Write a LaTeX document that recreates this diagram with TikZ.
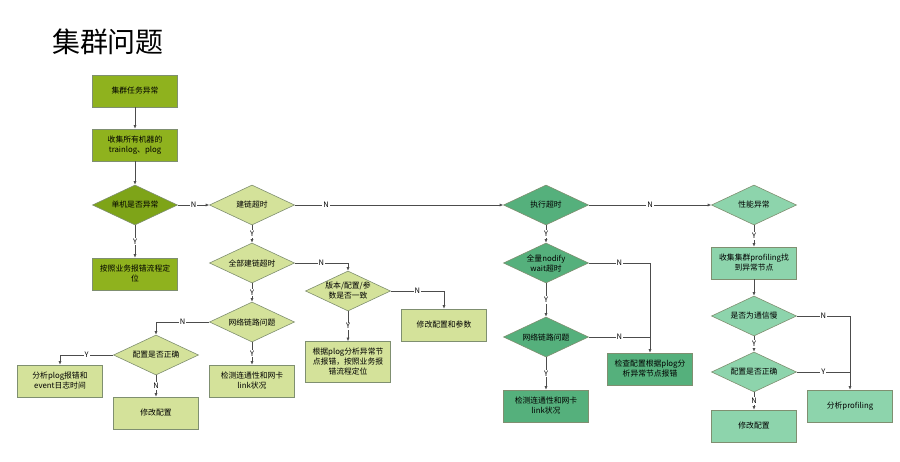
\documentclass[tikz,border=0pt]{standalone}
\usepackage{fontspec}
\setmainfont{Noto Sans CJK SC}
\usetikzlibrary{shapes.geometric,arrows.meta}
\definecolor{ca}{HTML}{8FB21E}
\definecolor{cad}{HTML}{7EA418}
\definecolor{cb}{HTML}{D4E29A}
\definecolor{cc}{HTML}{55B07C}
\definecolor{cd}{HTML}{8DD4AC}
\definecolor{bd}{HTML}{7F8F70}
\begin{document}
\begin{tikzpicture}[x=1pt,y=-1pt,
  every node/.style={font=\fontsize{7.8}{10}\selectfont},
  box/.style={rectangle,draw=bd,line width=0.6pt,minimum width=85pt,minimum height=32pt,align=center,inner sep=1pt},
  dia/.style={diamond,draw=bd,line width=0.6pt,minimum width=85pt,minimum height=40pt,aspect=2.1,inner sep=0pt,align=center},
  ar/.style={-{Latex[length=3.5pt,width=3pt]},draw=black!70,line width=0.6pt},
  ln/.style={draw=black!70,line width=0.6pt},
  lb/.style={fill=white,inner sep=1pt,font=\fontsize{7.5}{9}\selectfont}]
\useasboundingbox (0,0) rectangle (900,462);
\node[font=\fontsize{28}{32}\selectfont] (title) at (108,42) {集群问题};
% column 1
\node[box,fill=ca] (a1) at (135,91) {集群任务异常};
\node[box,fill=ca] (a2) at (135,145) {收集所有机器的\\trainlog、plog};
\node[dia,fill=cad] (a3) at (135,205) {单机是否异常};
\node[box,fill=ca] (a4) at (135,274) {按照业务报错流程定\\位};
% column 2
\node[dia,fill=cb] (b1) at (252,205) {建链超时};
\node[dia,fill=cb] (b2) at (252,263) {全部建链超时};
\node[dia,fill=cb] (b3) at (252,322) {网络链路问题};
\node[dia,fill=cb] (b4) at (156,355) {配置是否正确};
\node[box,fill=cb] (b5) at (60,381) {分析plog报错和\\event日志时间};
\node[box,fill=cb] (b6) at (156,413) {修改配置};
\node[box,fill=cb] (b7) at (252,381) {检测连通性和网卡\\link状况};
\node[dia,fill=cb] (b8) at (348,291) {版本/配置/参\\数是否一致};
\node[box,fill=cb] (b9) at (444,325) {修改配置和参数};
\node[box,fill=cb,minimum height=41pt] (b10) at (348,362) {根据plog分析异常节\\点报错，按照业务报\\错流程定位};
% column 3
\node[dia,fill=cc] (c1) at (546,205) {执行超时};
\node[dia,fill=cc] (c2) at (546,263) {全量nodify\\wait超时};
\node[dia,fill=cc] (c3) at (546,337) {网络链路问题};
\node[box,fill=cc] (c4) at (546,406) {检测连通性和网卡\\link状况};
\node[box,fill=cc] (c5) at (650,369) {检查配置根据plog分\\析异常节点报错};
% column 4
\node[dia,fill=cd] (d1) at (754,205) {性能异常};
\node[box,fill=cd] (d2) at (754,263) {收集集群profiling找\\到异常节点};
\node[dia,fill=cd] (d3) at (754,316) {是否为通信慢};
\node[dia,fill=cd] (d4) at (754,372) {配置是否正确};
\node[box,fill=cd] (d5) at (754,426) {修改配置};
\node[box,fill=cd] (d6) at (850,406) {分析profiling};
% connectors
\draw[ar] (a1) -- (a2);
\draw[ar] (a2) -- (a3);
\draw[ar] (a3) -- node[lb]{Y} (a4);
\draw[ar] (a3) -- node[lb]{N} (b1);
\draw[ar] (b1) -- node[lb,pos=0.15]{N} (c1);
\draw[ar] (c1) -- node[lb]{N} (d1);
\draw[ar] (b1) -- node[lb]{Y} (b2);
\draw[ar] (b2) -- node[lb]{Y} (b3);
\draw[ar] (b2.east) -- node[lb]{N} (348,263) -- (b8.north);
\draw[ar] (b8.east) -- node[lb]{N} (444,291) -- (b9.north);
\draw[ar] (b8) -- node[lb]{Y} (b10);
\draw[ar] (b3.west) -- node[lb]{N} (156,322) -- (b4.north);
\draw[ar] (b4.west) -- node[lb]{Y} (60,355) -- (b5.north);
\draw[ar] (b4) -- node[lb]{N} (b6);
\draw[ar] (b3) -- node[lb]{Y} (b7);
\draw[ar] (c1) -- node[lb]{Y} (c2);
\draw[ar] (c2) -- node[lb]{Y} (c3);
\draw[ar] (c2.east) -- node[lb]{N} (650,263) -- (c5.north);
\draw[ln] (c3.east) -- node[lb]{N} (650,337);
\draw[ar] (c3) -- node[lb]{Y} (c4);
\draw[ar] (d1) -- node[lb]{Y} (d2);
\draw[ar] (d2) -- (d3);
\draw[ar] (d3) -- node[lb]{Y} (d4);
\draw[ar] (d3.east) -- node[lb]{N} (850,316) -- (d6.north);
\draw[ln] (d4.east) -- node[lb]{Y} (850,372);
\draw[ar] (d4) -- node[lb]{N} (d5);
\end{tikzpicture}
\end{document}
